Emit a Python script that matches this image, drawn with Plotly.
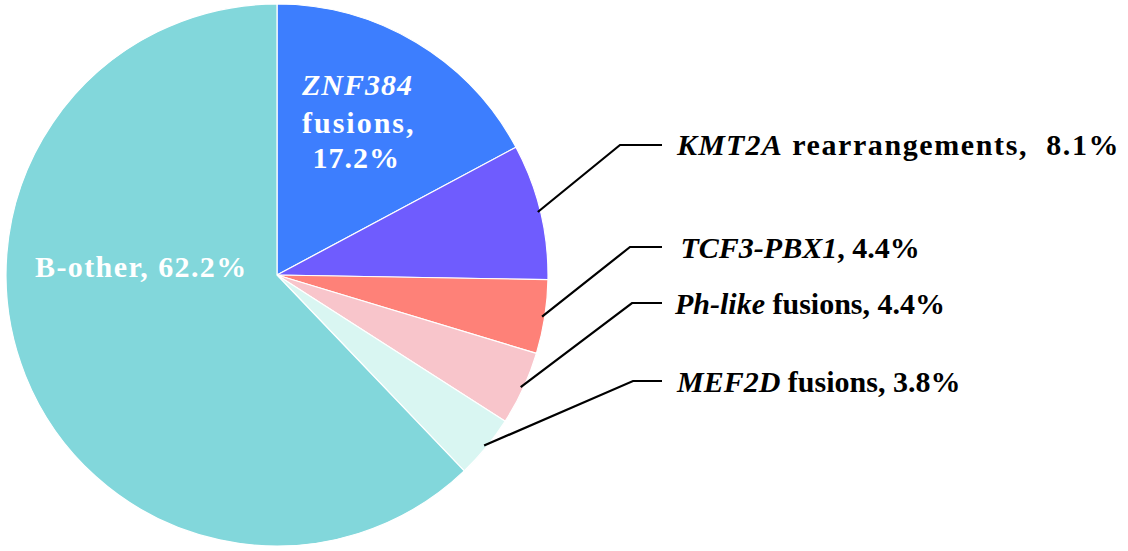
import plotly.graph_objects as go
import math

categories = ["ZNF384 fusions", "KMT2A rearrangements", "TCF3-PBX1", "Ph-like fusions", "MEF2D fusions", "B-other"]
values = [17.2, 8.1, 4.4, 4.4, 3.8, 62.2]
colors = ["#3D7EFE", "#6F5CFE", "#FE8178", "#F8C5CB", "#D9F6F2", "#82D7DB"]

W, H = 1128, 551
CX, CY, R = 277, 275, 271

def px(x):
    return x / W

def py(y):
    return 1 - y / H

def ls(txt, sp):
    return f"<span style='letter-spacing:{sp}px'>{txt}</span>"

fig = go.Figure(go.Pie(
    labels=categories,
    values=values,
    sort=False,
    direction="clockwise",
    rotation=0,
    marker=dict(colors=colors, line=dict(color="white", width=1.2)),
    textinfo="none",
    hoverinfo="label+percent",
    showlegend=False,
    domain=dict(x=[px(CX - R), px(CX + R)], y=[py(CY + R), py(CY - R)]),
))

FONT = "Liberation Serif, Times New Roman, serif"
FS = 30

annotations = []
# inside labels
inside = [
    ("<b><i>" + ls("ZNF384", 1) + "</i></b>", 357, 84),
    ("<b>" + ls("fusions,", 2) + "</b>", 359, 122),
    ("<b>" + ls(" 17.2%", 1) + "</b>", 352, 157),
    ("<b>" + ls("B-other, 62.2%", 1.4) + "</b>", 141, 266),
]
for txt, x, y in inside:
    annotations.append(dict(text=txt, x=px(x), y=py(y), xref="paper", yref="paper",
                            xanchor="center", yanchor="middle", showarrow=False,
                            font=dict(family=FONT, size=FS, color="white")))

# outside labels with leader lines
outside_text = {
    1: "<b><i>" + ls("KMT2A", 1.2) + "</i>" + ls(" rearrangements,  8.1%", 1.6) + "</b>",
    2: "<b> <i>TCF3-PBX1</i>, 4.4%</b>",
    3: "<b><i>Ph-like</i> fusions, 4.4%</b>",
    4: "<b><i>MEF2D</i> fusions, 3.8%</b>",
}
label_y = {1: 145, 2: 247, 3: 303, 4: 381}
elbow_x = {1: 620, 2: 630, 3: 632, 4: 633}
text_x = {1: 674, 2: 671, 3: 672, 4: 674}
line_end_x = 662

shapes = []
total = sum(values)
cum = 0
for i, v in enumerate(values):
    mid = (cum + v / 2) / total
    cum += v
    if i not in outside_text:
        continue
    ang = math.radians(90 - mid * 360)
    rr = R * 0.99
    sx = CX + rr * math.cos(ang)
    sy = CY - rr * math.sin(ang)
    ly = label_y[i]
    path = f"M {px(sx)},{py(sy)} L {px(elbow_x[i])},{py(ly)} L {px(line_end_x)},{py(ly)}"
    shapes.append(dict(type="path", path=path, xref="paper", yref="paper",
                       line=dict(color="black", width=2.2)))
    annotations.append(dict(text=outside_text[i], x=px(text_x[i]), y=py(ly), xref="paper", yref="paper",
                            xanchor="left", yanchor="middle", showarrow=False,
                            font=dict(family=FONT, size=FS, color="black")))

fig.update_layout(
    width=W, height=H,
    margin=dict(l=0, r=0, t=0, b=0),
    paper_bgcolor="white",
    plot_bgcolor="white",
    annotations=annotations,
    shapes=shapes,
)

fig.write_html("out.html", config={"displayModeBar": False},
               post_script="document.body.style.margin='0';document.body.style.overflow='hidden';")
